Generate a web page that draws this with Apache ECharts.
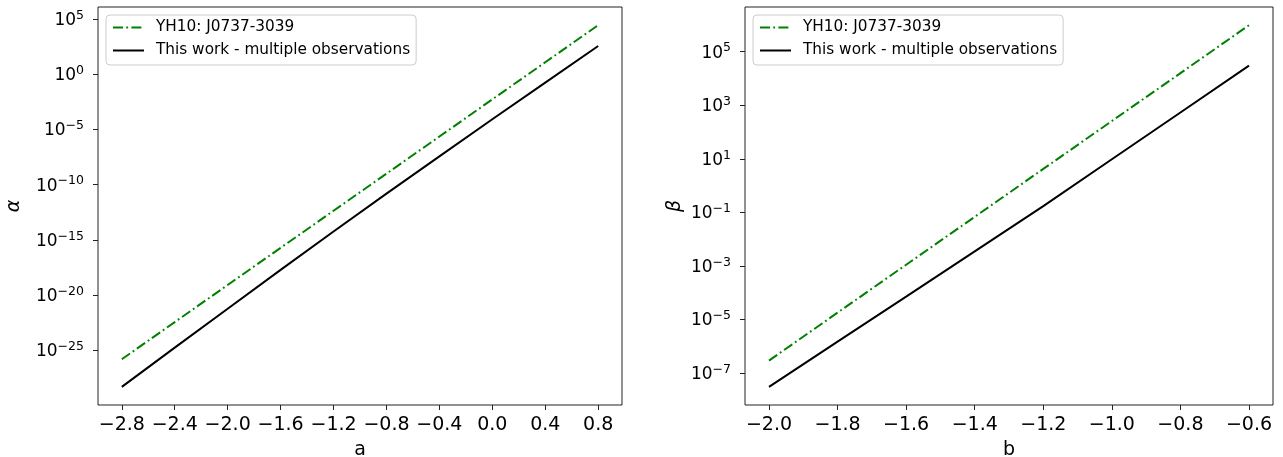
<!DOCTYPE html>
<html>
<head>
<meta charset="utf-8">
<script src="https://cdn.jsdelivr.net/npm/echarts@6/dist/echarts.min.js"></script>
<style>
html,body{margin:0;padding:0;background:#fff;}
#chart{width:1283px;height:457px;}
</style>
</head>
<body>
<div id="chart"></div>
<script>
// ---- data ----
const seriesNames = ['YH10: J0737-3039', 'This work - multiple observations'];

const aValues = [-2.8, -2.4, -2.0, -1.6, -1.2, -0.8, -0.4, 0.0, 0.4, 0.8];
const alphaYH10 = [1.58e-26, 3.63e-23, 8.32e-20, 1.91e-16, 4.27e-13, 9.77e-10, 2.24e-6, 5.13e-3, 11.7, 2.69e4];
const alphaThisWork = [5.01e-29, 1.78e-25, 5.89e-22, 1.91e-18, 5.75e-15, 1.55e-11, 3.63e-8, 8.13e-5, 0.170, 347];

const bValues = [-2.0, -1.8, -1.6, -1.4, -1.2, -1.0, -0.8, -0.6];
const betaYH10 = [2.88e-7, 1.78e-5, 1.10e-3, 0.0676, 4.17, 257, 1.58e4, 9.77e5];
const betaThisWork = [3.02e-8, 1.48e-6, 7.08e-5, 3.47e-3, 0.170, 9.55, 537, 3.02e4];

const aTicks = [-2.8, -2.4, -2.0, -1.6, -1.2, -0.8, -0.4, 0.0, 0.4, 0.8];
const bTicks = [-2.0, -1.8, -1.6, -1.4, -1.2, -1.0, -0.8, -0.6];
const alphaTicks = [1e-25, 1e-20, 1e-15, 1e-10, 1e-5, 1e0, 1e5];
const betaTicks = [1e-7, 1e-5, 1e-3, 1e-1, 1e1, 1e3, 1e5];

// ---- helpers ----
const FONT = 'DejaVu Sans';
const MINUS = '\u2212';
const zip = (xs, ys) => xs.map((x, i) => [x, ys[i]]);
const fmtX = v => v.toFixed(1).replace('-', MINUS);
const fmtPow = v => {
  const e = Math.round(Math.log10(v));
  return '{b|10}{s|' + String(e).replace('-', MINUS) + '}';
};
const dashDot = [10, 3.3, 1.8, 3.3];

function xAxisDef(gridIndex, min, max, ticks, name) {
  return {
    type: 'value', gridIndex, min, max, name,
    nameLocation: 'middle', nameGap: 36,
    nameTextStyle: {fontFamily: FONT, fontSize: 19, color: '#000'},
    axisLine: {show: false, onZero: false},
    splitLine: {show: false},
    axisTick: {show: true, length: 5, customValues: ticks, lineStyle: {color: '#222', width: 1}},
    axisLabel: {customValues: ticks, formatter: fmtX, fontFamily: FONT, fontSize: 19, color: '#000', margin: 11}
  };
}
function yAxisDef(gridIndex, min, max, ticks, name, nameGap) {
  return {
    type: 'log', logBase: 10, gridIndex, min, max, name,
    nameLocation: 'middle', nameGap, nameRotate: 90,
    nameTextStyle: {fontFamily: FONT, fontSize: 19, fontStyle: 'italic', color: '#000'},
    axisLine: {show: false, onZero: false},
    splitLine: {show: false},
    axisTick: {show: true, length: 5, customValues: ticks, lineStyle: {color: '#222', width: 1}},
    axisLabel: {
      customValues: ticks, formatter: fmtPow, margin: 14,
      fontFamily: FONT, fontSize: 17, color: '#000',
      rich: {
        b: {fontFamily: FONT, fontSize: 17, color: '#000', lineHeight: 20, verticalAlign: 'bottom'},
        s: {fontFamily: FONT, fontSize: 12.5, color: '#000', lineHeight: 13, verticalAlign: 'top'}
      }
    }
  };
}
function legendDef(left) {
  return {
    data: seriesNames, left, top: 15, orient: 'vertical',
    itemWidth: 31, itemHeight: 14, itemGap: 8,
    padding: [5, 6, 7, 6],
    backgroundColor: 'rgba(255,255,255,0.8)',
    borderColor: '#cccccc', borderWidth: 1, borderRadius: 4,
    itemStyle: {color: 'rgba(0,0,0,0)', borderWidth: 0, opacity: 0},
    textStyle: {fontFamily: FONT, fontSize: 15.3, color: '#000', padding: [0, 0, 0, 7]},
    selectedMode: false
  };
}
function lineSeries(name, xi, yi, data, green) {
  return {
    type: 'line', name, xAxisIndex: xi, yAxisIndex: yi, data,
    symbol: 'none', showSymbol: false, silent: true,
    lineStyle: green ? {color: '#008000', width: 2, type: dashDot} : {color: '#000000', width: 2},
    itemStyle: {color: green ? '#008000' : '#000000'}
  };
}

const chart = echarts.init(document.getElementById('chart'), null, {renderer: 'canvas'});
chart.setOption({
  animation: false,
  backgroundColor: '#ffffff',
  textStyle: {fontFamily: FONT},
  grid: [
    {left: 98, top: 7, width: 524, height: 398, show: true, borderColor: '#222', borderWidth: 1, backgroundColor: 'transparent', containLabel: false, outerBoundsMode: 'none'},
    {left: 745, top: 7, width: 528, height: 398, show: true, borderColor: '#222', borderWidth: 1, backgroundColor: 'transparent', containLabel: false, outerBoundsMode: 'none'}
  ],
  xAxis: [
    xAxisDef(0, -2.98, 0.98, aTicks, 'a'),
    xAxisDef(1, -2.07, -0.53, bTicks, 'b')
  ],
  yAxis: [
    yAxisDef(0, Math.pow(10, -29.94), Math.pow(10, 6.07), alphaTicks, '\u03B1', 74),
    yAxisDef(1, Math.pow(10, -8.2), Math.pow(10, 6.67), betaTicks, '\u03B2', 60)
  ],
  legend: [legendDef(106), legendDef(753)],
  series: [
    lineSeries(seriesNames[0], 0, 0, zip(aValues, alphaYH10), true),
    lineSeries(seriesNames[1], 0, 0, zip(aValues, alphaThisWork), false),
    lineSeries(seriesNames[0], 1, 1, zip(bValues, betaYH10), true),
    lineSeries(seriesNames[1], 1, 1, zip(bValues, betaThisWork), false)
  ]
});
</script>
</body>
</html>
